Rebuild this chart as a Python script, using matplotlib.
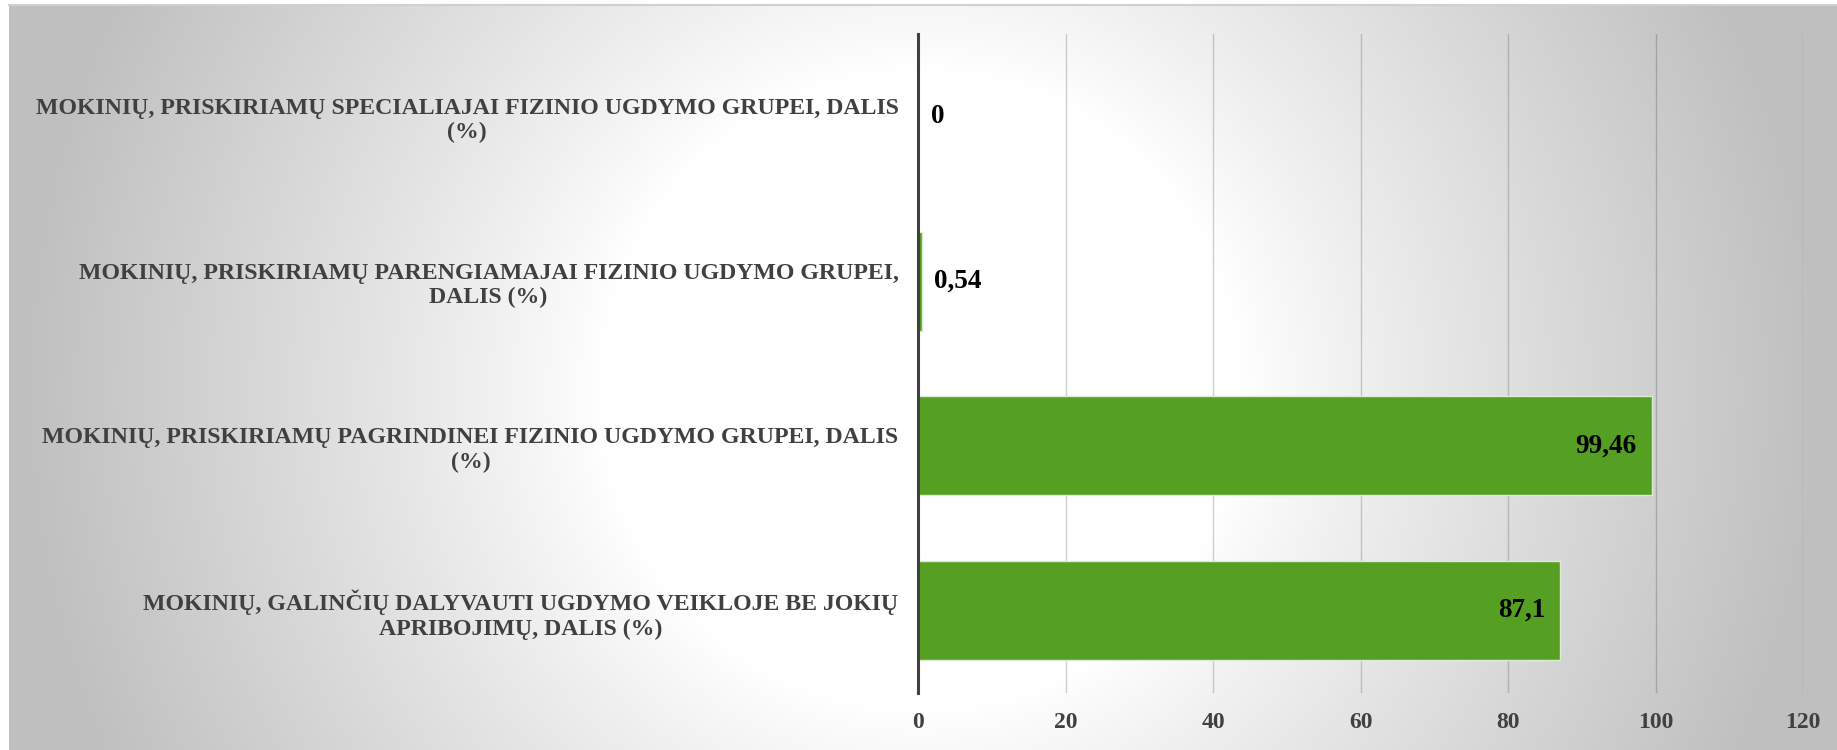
import numpy as np
import matplotlib.pyplot as plt

# Duomenys
categories = [
    "MOKINIŲ, PRISKIRIAMŲ SPECIALIAJAI FIZINIO UGDYMO GRUPEI, DALIS\n(%)",
    "MOKINIŲ, PRISKIRIAMŲ PARENGIAMAJAI FIZINIO UGDYMO GRUPEI,\nDALIS (%)",
    "MOKINIŲ, PRISKIRIAMŲ PAGRINDINEI FIZINIO UGDYMO GRUPEI, DALIS\n(%)",
    "MOKINIŲ, GALINČIŲ DALYVAUTI UGDYMO VEIKLOJE BE JOKIŲ\nAPRIBOJIMŲ, DALIS (%)",
]
values = [0, 0.54, 99.46, 87.1]
x_ticks = [0, 20, 40, 60, 80, 100, 120]

W, H = 1837, 750
plt.rcParams['font.family'] = ['Liberation Serif', 'DejaVu Serif']

fig = plt.figure(figsize=(W / 100, H / 100), dpi=100)
fig.patch.set_facecolor('white')

# Fonas: radialinis gradientas
x0, y0 = 9, 5
bg = fig.add_axes([x0 / W, 0, 1 - x0 / W, (H - y0) / H])
gx, gy = np.meshgrid(np.arange(x0, W), np.arange(y0, H))
d = np.hypot(gx - 920, gy - 390)
t = np.clip((d - 320) / 580, 0, 1) ** 0.9
shade = 1 - 0.25 * t
bg.imshow(np.dstack([shade] * 3), aspect='auto', interpolation='bilinear')
bg.set_xticks([])
bg.set_yticks([])
for s in bg.spines.values():
    s.set_visible(False)
bg.spines['top'].set_visible(True)
bg.spines['top'].set_color('#d0d0d0')
bg.spines['top'].set_linewidth(1.5)

# Diagrama
ax = fig.add_axes([918 / W, 1 - 693 / H, (1803 - 918) / W, (693 - 34) / H])
ax.patch.set_alpha(0)
y = np.arange(len(categories))
ax.barh(y, values, height=0.6, color='#55A022', edgecolor='#dcebd2', linewidth=1, zorder=3)
ax.set_ylim(len(categories) - 0.5, -0.5)
ax.set_xlim(0, 120)
ax.set_xticks(x_ticks)
ax.set_xticklabels([str(v) for v in x_ticks], fontsize=17, fontweight='bold', color='#404040')
ax.set_yticks(y)
ax.set_yticklabels(categories, fontsize=17.2, fontweight='bold', color='#404040',
                   ha='right', multialignment='center', linespacing=1.2)
ax.tick_params(axis='y', length=0, pad=14)
ax.tick_params(axis='x', length=0, pad=14)
ax.grid(axis='x', color='black', alpha=0.18, linewidth=1, zorder=0)
for s in ['top', 'right', 'bottom']:
    ax.spines[s].set_visible(False)
ax.spines['left'].set_color('#404040')
ax.spines['left'].set_linewidth(2.2)
ax.spines['left'].set_zorder(4)

# Reikšmių etiketės
for yi, v in zip(y, values):
    txt = f"{v:g}".replace('.', ',')
    if v > 50:
        ax.annotate(txt, (v, yi), xytext=(-11, 0), textcoords='offset points',
                    ha='right', va='center', fontsize=19.5, fontweight='bold', color='black', zorder=5)
    else:
        ax.annotate(txt, (v, yi), xytext=(9, 0), textcoords='offset points',
                    ha='left', va='center', fontsize=19.5, fontweight='bold', color='black', zorder=5)

fig.savefig('out.png', dpi=100)
